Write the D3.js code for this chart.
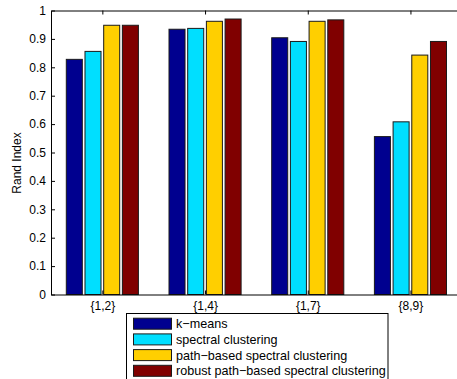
<!DOCTYPE html>
<html>
<head>
<meta charset="utf-8">
<script src="https://cdn.jsdelivr.net/npm/d3@7"></script>
<style>
  body { margin: 0; background: #fff; }
  svg { display: block; }
  text { font-family: "Liberation Sans", Arial, sans-serif; }
</style>
</head>
<body>
<script>
const categories = ["{1,2}", "{1,4}", "{1,7}", "{8,9}"];
const seriesNames = ["k\u2212means", "spectral clustering", "path\u2212based spectral clustering", "robust path\u2212based spectral clustering"];
const kmeans   = [0.828, 0.934, 0.904, 0.556];
const spectral = [0.856, 0.937, 0.891, 0.608];
const pathBased = [0.948, 0.962, 0.962, 0.843];
const robust   = [0.948, 0.970, 0.967, 0.891];
const yTicks = [0, 0.1, 0.2, 0.3, 0.4, 0.5, 0.6, 0.7, 0.8, 0.9, 1];
const colors = ["#00008F", "#00DFFF", "#FFCF00", "#800000"];

const series = [kmeans, spectral, pathBased, robust];

const W = 457, H = 379;
const svg = d3.select("body").append("svg").attr("width", W).attr("height", H);

const pLeft = 51, pTop = 10.5, pBottom = 294.5;
const unit = 102.7;
const pRight = pLeft + 4 * unit;

const x = d3.scaleLinear().domain([0.5, 4.5]).range([pLeft, pRight]);
const y = d3.scaleLinear().domain([0, 1]).range([pBottom, pTop]);

const slot = 0.182, bw = 0.156;

// bars
series.forEach((vals, si) => {
  svg.append("g").selectAll("rect").data(vals).join("rect")
    .attr("x", (d, i) => x(i + 1 + (si - 1.5) * slot - bw / 2))
    .attr("width", x(bw) - x(0))
    .attr("y", d => y(d))
    .attr("height", d => y(0) - y(d))
    .attr("fill", colors[si])
    .attr("stroke", "#1a1a1a")
    .attr("stroke-width", 1);
});

// axes
const yAxis = d3.axisLeft(y).tickValues(yTicks).tickFormat(d => String(+d.toFixed(1)))
  .tickSize(-4).tickSizeOuter(0).tickPadding(5);
const gy = svg.append("g").attr("transform", `translate(${pLeft},0)`).call(yAxis);
gy.selectAll("text").attr("font-size", 12).attr("fill", "#000").style("font-family", '"Liberation Sans", Arial, sans-serif');
gy.selectAll("line,path").attr("stroke", "#000");

const xAxis = d3.axisBottom(x).tickValues([1, 2, 3, 4]).tickFormat((d, i) => categories[i])
  .tickSize(-4).tickSizeOuter(0).tickPadding(7);
const gx = svg.append("g").attr("transform", `translate(0,${pBottom})`).call(xAxis);
gx.selectAll("text").attr("font-size", 12).attr("fill", "#000").style("font-family", '"Liberation Sans", Arial, sans-serif');
gx.selectAll("line,path").attr("stroke", "#000");

const xTop = d3.axisTop(x).tickValues([1, 2, 3, 4]).tickFormat("").tickSize(-4).tickSizeOuter(0);
const gt = svg.append("g").attr("transform", `translate(0,${pTop})`).call(xTop);
gt.selectAll("line,path").attr("stroke", "#000");

svg.append("line").attr("x1", pRight).attr("x2", pRight).attr("y1", pTop).attr("y2", pBottom).attr("stroke", "#000");

// y label
svg.append("text")
  .attr("transform", "translate(21,163) rotate(-90)")
  .attr("text-anchor", "middle")
  .attr("font-size", 12)
  .text("Rand Index");

// legend
const lg = svg.append("g");
lg.append("rect").attr("x", 126.5).attr("y", 313.5).attr("width", 261.5).attr("height", 80)
  .attr("fill", "#fff").attr("stroke", "#000");
seriesNames.forEach((name, i) => {
  const cy = 323.7 + i * 15.7;
  lg.append("rect").attr("x", 133.5).attr("y", cy - 5.5).attr("width", 38).attr("height", 11)
    .attr("fill", colors[i]).attr("stroke", "#1a1a1a");
  lg.append("text").attr("x", 176).attr("y", cy + 4.5).attr("font-size", 12.6).text(name);
});
</script>
</body>
</html>
